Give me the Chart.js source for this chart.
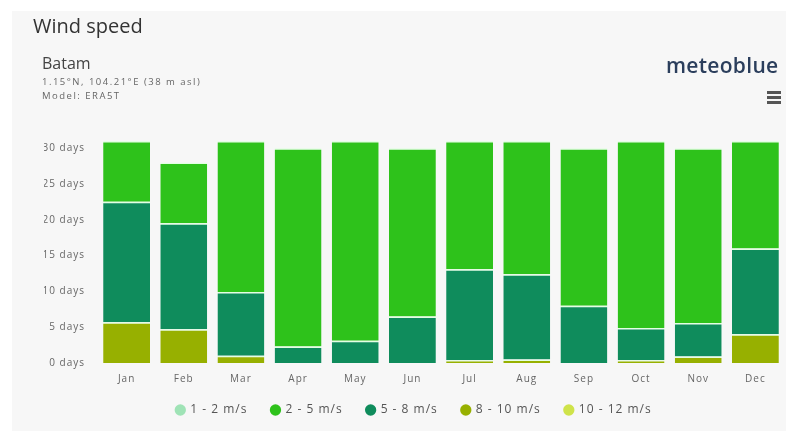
<!DOCTYPE html>
<html>
<head>
<meta charset="utf-8">
<script src="https://cdn.jsdelivr.net/npm/chart.js@4/dist/chart.umd.min.js"></script>
<style>
  html,body{margin:0;padding:0;background:#fff;width:786px;height:431px;overflow:hidden;font-family:"Open Sans","Noto Sans",sans-serif;}
  #panel{position:absolute;left:12px;top:11px;width:774px;height:420px;background:#f7f7f7;}
  #title{position:absolute;left:33px;top:12px;font-size:20px;color:#333;}
  #place{position:absolute;left:42px;top:52px;font-size:16px;color:#444;}
  #coords{position:absolute;left:42px;top:75px;font-size:9.5px;color:#666;line-height:14px;letter-spacing:1.5px;}
  #logo{position:absolute;left:666px;top:51px;font-size:21px;font-weight:600;color:#2b3e5c;letter-spacing:0.3px;}
  #menu{position:absolute;left:767px;top:91px;width:14px;}
  #menu div{height:2.5px;background:#555;margin-bottom:2.5px;}
  #wrap{position:absolute;left:0;top:0;width:786px;height:431px;}
</style>
</head>
<body>
<div id="panel"></div>
<div id="wrap"><canvas id="c" width="786" height="431"></canvas></div>
<div id="title">Wind speed</div>
<div id="place">Batam</div>
<div id="coords">1.15°N, 104.21°E (38 m asl)<br>Model: ERA5T</div>
<div id="logo">meteoblue</div>
<div id="menu"><div></div><div></div><div></div></div>
<script>
const months = ["Jan","Feb","Mar","Apr","May","Jun","Jul","Aug","Sep","Oct","Nov","Dec"];
const seriesNames = ["1 - 2 m/s","2 - 5 m/s","5 - 8 m/s","8 - 10 m/s","10 - 12 m/s"];
const s1to2   = [0,0,0,0,0,0,0,0,0,0,0,0];
const s2to5   = [8.5,8.5,21.1,27.7,27.9,23.5,17.9,18.6,22.0,26.1,24.4,15.0];
const s5to8   = [16.8,14.8,8.9,2.3,3.1,6.5,12.7,11.9,8.0,4.5,4.7,12.0];
const s8to10  = [5.7,4.7,1.0,0,0,0,0.4,0.5,0,0.4,0.9,4.0];
const s10to12 = [0,0,0,0,0,0,0,0,0,0,0,0];
const yTicks = [0,5,10,15,20,25,30];
const colors = ["#9fe3b6","#2ec21b","#0f8c5c","#97b000","#cfe34a"];

const seriesData = [s1to2, s2to5, s5to8, s8to10, s10to12];
// stack from bottom: strongest winds first
const datasets = seriesNames.map((n,i)=>({
  label:n,
  data:seriesData[i],
  backgroundColor:colors[i],
  borderColor:"rgba(225,255,225,0.95)",
  borderWidth:{top:1.5,bottom:0,left:0,right:0},
  borderSkipped:false,
  stack:"s"
})).reverse();

const spacing = {
  id:"spacing",
  beforeLayout(chart){ chart.ctx.letterSpacing = "1px"; },
  afterLayout(chart){ if(chart.legend){ chart.legend.top -= 15; chart.legend.bottom -= 15; } },
  beforeDraw(chart){ chart.ctx.letterSpacing = "1px"; }
};

new Chart(document.getElementById("c"),{
  type:"bar",
  data:{labels:months,datasets:datasets},
  plugins:[spacing],
  options:{
    responsive:false,
    animation:false,
    layout:{padding:{top:141,right:2,left:44,bottom:-10}},
    datasets:{bar:{barPercentage:0.82,categoryPercentage:1.0}},
    scales:{
      x:{stacked:true,grid:{display:false,drawTicks:false},border:{display:false},
         ticks:{color:"#666",font:{size:10,family:"Open Sans"},padding:10}},
      y:{stacked:true,min:0,max:31,grid:{display:false,drawTicks:false},border:{display:false},
         afterBuildTicks:(s)=>{s.ticks=yTicks.map(v=>({value:v}));},
         afterFit:(s)=>{s.width=54;},
         ticks:{color:"#666",font:{size:10,family:"Open Sans"},padding:13,
           callback:(v)=>v+" days"}}
    },
    plugins:{
      legend:{position:"bottom",
        labels:{usePointStyle:true,boxWidth:8,boxHeight:8,padding:24,color:"#555",
          font:{size:12,family:"Open Sans"},
          generateLabels:(chart)=>seriesNames.map((n,i)=>({
            text:n,fillStyle:colors[i],strokeStyle:colors[i],
            lineWidth:0,pointStyle:"circle",datasetIndex:seriesNames.length-1-i,hidden:false,fontColor:"#555"}))}},
      tooltip:{enabled:false}
    }
  }
});
</script>
</body>
</html>
